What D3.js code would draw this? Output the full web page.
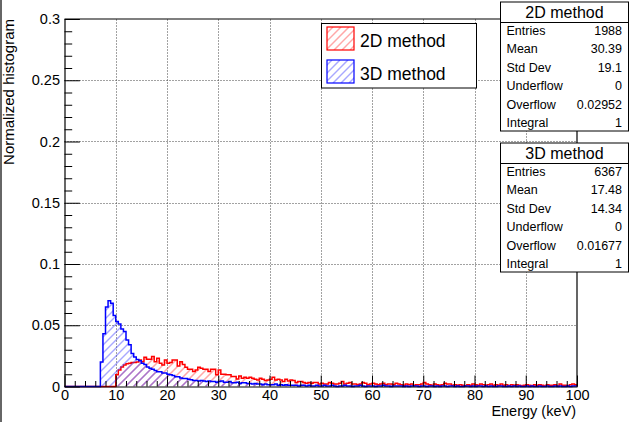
<!DOCTYPE html>
<html>
<head>
<meta charset="utf-8">
<script src="https://cdn.jsdelivr.net/npm/d3@7"></script>
<style>
  body { margin: 0; background: #fff; }
  svg { display: block; }
  text { font-family: "Liberation Sans", Arial, Helvetica, sans-serif; fill: #000; }
</style>
</head>
<body>
<svg id="chart" width="634" height="422"></svg>
<script>
// Energy spectra, 200 bins of 0.5 keV between 0 and 100 keV, normalised to unit integral
const energyRange = [0, 100];
const binWidth = 0.5;

const yRange = [0, 0.3];
const xMajorTicks = [0, 10, 20, 30, 40, 50, 60, 70, 80, 90, 100];
const yMajorTicks = [0, 0.05, 0.1, 0.15, 0.2, 0.25, 0.3];
const yTickLabels = ["0", "0.05", "0.1", "0.15", "0.2", "0.25", "0.3"];

const seriesNames = ["2D method", "3D method"];

// 2D method, bin contents
const counts2D = [
  0,0,0,0,0,0,0,0,0,0, 0,0,0,0,0,0,0,0,0,0,
  0.0095,0.0135,0.016,0.0176,0.0185,0.019,0.0195,0.0195,0.020,0.0217,
  0.0203,0.0239,0.0222,0.0222,0.0244,0.0203,0.023,0.019,0.0176,0.0217,
  0.019,0.0195,0.0217,0.0217,0.0168,0.0203,0.018,0.0157,0.0141,0.0141,
  0.0122,0.0135,0.0157,0.015,0.0141,0.0141,0.0122,0.0141,0.014,0.0095,
  0.0135,0.010,0.010,0.0095,0.0095,0.0081,0.0081,0.0062,0.0085,0.0068,
  0.0076,0.0068,0.0076,0.0068,0.0060,0.0054,0.0068,0.0060,0.0050,0.0054,
  0.0060,0.0076,0.0054,0.0060,0.0054,0.0040,0.0060,0.0045,0.0054,0.0050,
  0.0032,0.0040,0.0040,0.0032,0.0027,0.0032,0.0027,0.0032,0.0032,0.0020,
  0.0027,0.0020,0.0020,0.0032,0.0027,0.0020,0.0020,0.0027,0.0040,0.0020,
  0.0027,0.0032,0.0020,0.0020,0.0015,0.0020,0.0032,0.0027,0.0015,0.0020,
  0.0027,0.0020,0.0015,0.0020,0.0027,0.0015,0.0020,0.0020,0.0015,0.0027,
  0.0020,0.0015,0.0010,0.0020,0.0015,0.0020,0.0010,0.0015,0.0015,0.0020,
  0.0032,0.0020,0.0015,0.0010,0.0020,0.0015,0.0010,0.0015,0.0027,0.0020,
  0.0020,0.0010,0.0015,0.0010,0.0015,0.0010,0.0005,0.0015,0.0010,0.0020,
  0.0015,0.0010,0.0020,0.0015,0.0010,0.0015,0.0020,0.0010,0.0015,0.0010,
  0.0020,0.0010,0.0015,0.0005,0.0015,0.0010,0.0015,0.0010,0.0005,0.0010,
  0.0015,0.0010,0.0005,0.0015,0.0010,0.0015,0.0010,0.0005,0.0015,0.0010,
  0.0010,0.0015,0.0005,0.0020,0.0010,0.0010,0.0005,0.0015,0.0020,0.0015
];

// 3D method, bin contents
const counts3D = [
  0,0,0,0,0,0,0,0,0,0, 0,0,0,0,
  0.020,0.043,0.065,0.070,0.068,0.058,
  0.053,0.051,0.047,0.045,0.038,0.034,0.027,0.024,0.022,0.021,
  0.019,0.018,0.016,0.015,0.014,0.013,0.012,0.012,0.011,0.011,
  0.010,0.0095,0.009,0.008,0.008,0.007,0.0065,0.0065,0.006,0.0055,
  0.005,0.005,0.0045,0.005,0.0045,0.004,0.0045,0.004,0.004,0.0035,
  0.004,0.0045,0.0035,0.0035,0.004,0.003,0.003,0.0035,0.0025,0.003,
  0.003,0.0025,0.0025,0.002,0.0025,0.002,0.002,0.0015,0.002,0.0015,
  0.0015,0.0015,0.002,0.001,0.0015,0.001,0.0015,0.001,0.001,0.001,
  0.001,0.0005,0.001,0.001,0.0005,0.001,0.0005,0.0005,0.001,0.0005,
  0.0005,0.001,0.0005,0.0005,0.001,0.0005,0,0.0005,0.0005,0.001,
  0.0005,0.0005,0,0.0005,0.0005,0.001,0.0005,0,0.0005,0.0005,
  0.0005,0,0.0005,0.0005,0.001,0.0005,0.0005,0,0.0005,0.0005,
  0.0005,0.0005,0,0.0005,0,0.0005,0.0005,0.0005,0,0.0005,
  0.0005,0,0.0005,0.0005,0,0.0005,0,0.0005,0.0005,0,
  0.0005,0.0005,0,0.0005,0,0,0.0005,0.0005,0,0.0005,
  0,0.0005,0.0005,0,0.0005,0,0.0005,0,0,0.0005,
  0.0005,0,0,0.0005,0,0.0005,0,0.0005,0,0,
  0.0005,0,0.0005,0,0,0.0005,0,0,0.0005,0,
  0,0.0005,0,0.0005,0,0,0.0005,0,0.0005,0.0005
];

// Statistics boxes
const statLabels = ["Entries", "Mean", "Std Dev", "Underflow", "Overflow", "Integral"];
const stats2DValues = ["1988", "30.39", "19.1", "0", "0.02952", "1"];
const stats3DValues = ["6367", "17.48", "14.34", "0", "0.01677", "1"];

const colors = { "2D method": "#ff0000", "3D method": "#0000ff" };
const hatchColors = { "2D method": "#ff3030", "3D method": "#3030ff" };

const svg = d3.select("#chart");
const defs = svg.append("defs");

const x = d3.scaleLinear().domain(energyRange).range([64.5, 577]);
const y = d3.scaleLinear().domain(yRange).range([386.5, 19]);

// Diagonal hatching laid over a region [x0,x1]x[y0,y1], clipped to a shape.
// All hatch lines share one lattice (x + y constant steps) so overlaps line up.
const hatchStep = 8;
function hatchLines(g, x0, y0, x1, y1, color) {
  const lines = [];
  const start = Math.floor((x0 + y0) / hatchStep) * hatchStep;
  for (let c = start; c <= x1 + y1 + hatchStep; c += hatchStep) {
    // line x + y = c
    lines.push({ xa: c - y1, ya: y1, xb: c - y0, yb: y0 });
  }
  g.selectAll("line").data(lines).join("line")
    .attr("x1", d => d.xa).attr("y1", d => d.ya)
    .attr("x2", d => d.xb).attr("y2", d => d.yb)
    .attr("stroke", color)
    .attr("stroke-opacity", 0.42)
    .attr("stroke-width", 1.5);
}

// left page edge
svg.append("line")
  .attr("x1", 1).attr("x2", 1).attr("y1", 0).attr("y2", 422)
  .attr("stroke", "#666").attr("stroke-width", 2);

// Grid
const grid = svg.append("g").attr("stroke", "#444").attr("stroke-width", 1)
  .attr("stroke-dasharray", "1,2");
grid.selectAll("line.v").data(xMajorTicks.slice(1, -1)).join("line")
  .attr("x1", d => Math.round(x(d)) + 0.5).attr("x2", d => Math.round(x(d)) + 0.5)
  .attr("y1", y(yRange[0])).attr("y2", y(yRange[1]));
grid.selectAll("line.h").data(yMajorTicks.slice(1, -1)).join("line")
  .attr("y1", d => Math.round(y(d)) + 0.5).attr("y2", d => Math.round(y(d)) + 0.5)
  .attr("x1", x(energyRange[0])).attr("x2", x(energyRange[1]));

// Step outline through every bin
function stepPoints(counts) {
  const pts = [{ e: energyRange[0], v: 0 }];
  counts.forEach((v, i) => {
    pts.push({ e: i * binWidth, v: v });
    pts.push({ e: (i + 1) * binWidth, v: v });
  });
  pts.push({ e: energyRange[1], v: 0 });
  return pts;
}
const line = d3.line().x(d => x(d.e)).y(d => y(d.v));

function drawHist(counts, name, clipId) {
  const pts = stepPoints(counts);
  defs.append("clipPath").attr("id", clipId)
    .append("path").attr("d", line(pts) + "Z");
  const peak = d3.max(counts);
  const hg = svg.append("g").attr("clip-path", `url(#${clipId})`);
  hatchLines(hg, x(energyRange[0]), y(peak) - 2, x(energyRange[1]), y(0), hatchColors[name]);
  svg.append("path")
    .attr("d", line(pts))
    .attr("fill", "none")
    .attr("stroke", colors[name])
    .attr("stroke-width", 1.5);
}
drawHist(counts2D, "2D method", "clip2D");
drawHist(counts3D, "3D method", "clip3D");

// Axes: ticks point inward
const xMinor = d3.range(0, 101, 2).filter(v => v % 10 !== 0);
const yMinor = d3.range(0, 31, 1).map(v => v / 100).filter(v => Math.round(v * 100) % 5 !== 0);

const xAxisG = svg.append("g").attr("transform", `translate(0,${y(0)})`);
xAxisG.call(d3.axisBottom(x).tickValues(xMajorTicks).tickSize(-11).tickSizeOuter(0)
  .tickPadding(3.5).tickFormat(d3.format("d")));
xAxisG.append("g").call(d3.axisBottom(x).tickValues(xMinor).tickSize(-5.5).tickSizeOuter(0)
  .tickFormat(""))
  .select(".domain").remove();

const yAxisG = svg.append("g").attr("transform", `translate(${x(0)},0)`);
yAxisG.call(d3.axisLeft(y).tickValues(yMajorTicks).tickSize(-15.4).tickSizeOuter(0)
  .tickPadding(4.5).tickFormat((d, i) => yTickLabels[i]));
yAxisG.append("g").call(d3.axisLeft(y).tickValues(yMinor).tickSize(-7.7).tickSizeOuter(0)
  .tickFormat(""))
  .select(".domain").remove();

svg.selectAll(".domain").attr("stroke", "#000").attr("stroke-width", 1.2);
svg.selectAll(".tick line").attr("stroke", "#000").attr("stroke-width", 1);
xAxisG.selectAll(".tick text").attr("font-size", "14.5px")
  .attr("font-family", "'Liberation Sans', Arial, sans-serif");
yAxisG.selectAll(".tick text").attr("font-size", "14.5px")
  .attr("font-family", "'Liberation Sans', Arial, sans-serif");

// Frame top and right
svg.append("path")
  .attr("d", `M${x(0)},${y(0.3)} H${x(100)} V${y(0)}`)
  .attr("fill", "none").attr("stroke", "#000").attr("stroke-width", 1.2);

// Axis titles
svg.append("text")
  .attr("x", 576).attr("y", 416)
  .attr("text-anchor", "end").attr("font-size", "14.5px")
  .text("Energy (keV)");
svg.append("text")
  .attr("transform", "translate(14,19) rotate(-90)")
  .attr("text-anchor", "end").attr("font-size", "15px")
  .text("Normalized histogram");

// Legend
const legend = svg.append("g");
legend.append("rect")
  .attr("x", 321.5).attr("y", 23.5).attr("width", 155).attr("height", 64.5)
  .attr("fill", "#fff").attr("stroke", "#000").attr("stroke-width", 1);
seriesNames.forEach((name, i) => {
  const top = 27 + i * 33;
  const clipId = "legendClip" + i;
  defs.append("clipPath").attr("id", clipId)
    .append("rect").attr("x", 327).attr("y", top).attr("width", 27).attr("height", 23);
  const sg = legend.append("g").attr("clip-path", `url(#${clipId})`);
  hatchLines(sg, 327, top, 354, top + 23, hatchColors[name]);
  legend.append("rect")
    .attr("x", 327).attr("y", top).attr("width", 27).attr("height", 23)
    .attr("fill", "none")
    .attr("stroke", colors[name]).attr("stroke-width", 1.2);
  legend.append("text")
    .attr("x", 360).attr("y", top + 19.5)
    .attr("font-size", "17.5px")
    .text(name);
});

// Statistics boxes
function statBox(top, title, values) {
  const g = svg.append("g");
  const left = 500.5, right = 628.5;
  g.append("rect")
    .attr("x", left).attr("y", top).attr("width", right - left).attr("height", 129)
    .attr("fill", "#fff").attr("stroke", "#000").attr("stroke-width", 1);
  g.append("line")
    .attr("x1", left).attr("x2", right).attr("y1", top + 20.5).attr("y2", top + 20.5)
    .attr("stroke", "#000").attr("stroke-width", 1);
  g.append("text")
    .attr("x", (left + right) / 2).attr("y", top + 16.3)
    .attr("text-anchor", "middle").attr("font-size", "16px")
    .text(title);
  statLabels.forEach((label, i) => {
    const by = top + 33 + i * 18.4;
    g.append("text").attr("x", 506.5).attr("y", by).attr("font-size", "12.5px").text(label);
    g.append("text").attr("x", 622).attr("y", by).attr("text-anchor", "end")
      .attr("font-size", "12.5px").text(values[i]);
  });
}
statBox(2, seriesNames[0], stats2DValues);
statBox(143, seriesNames[1], stats3DValues);
</script>
</body>
</html>
